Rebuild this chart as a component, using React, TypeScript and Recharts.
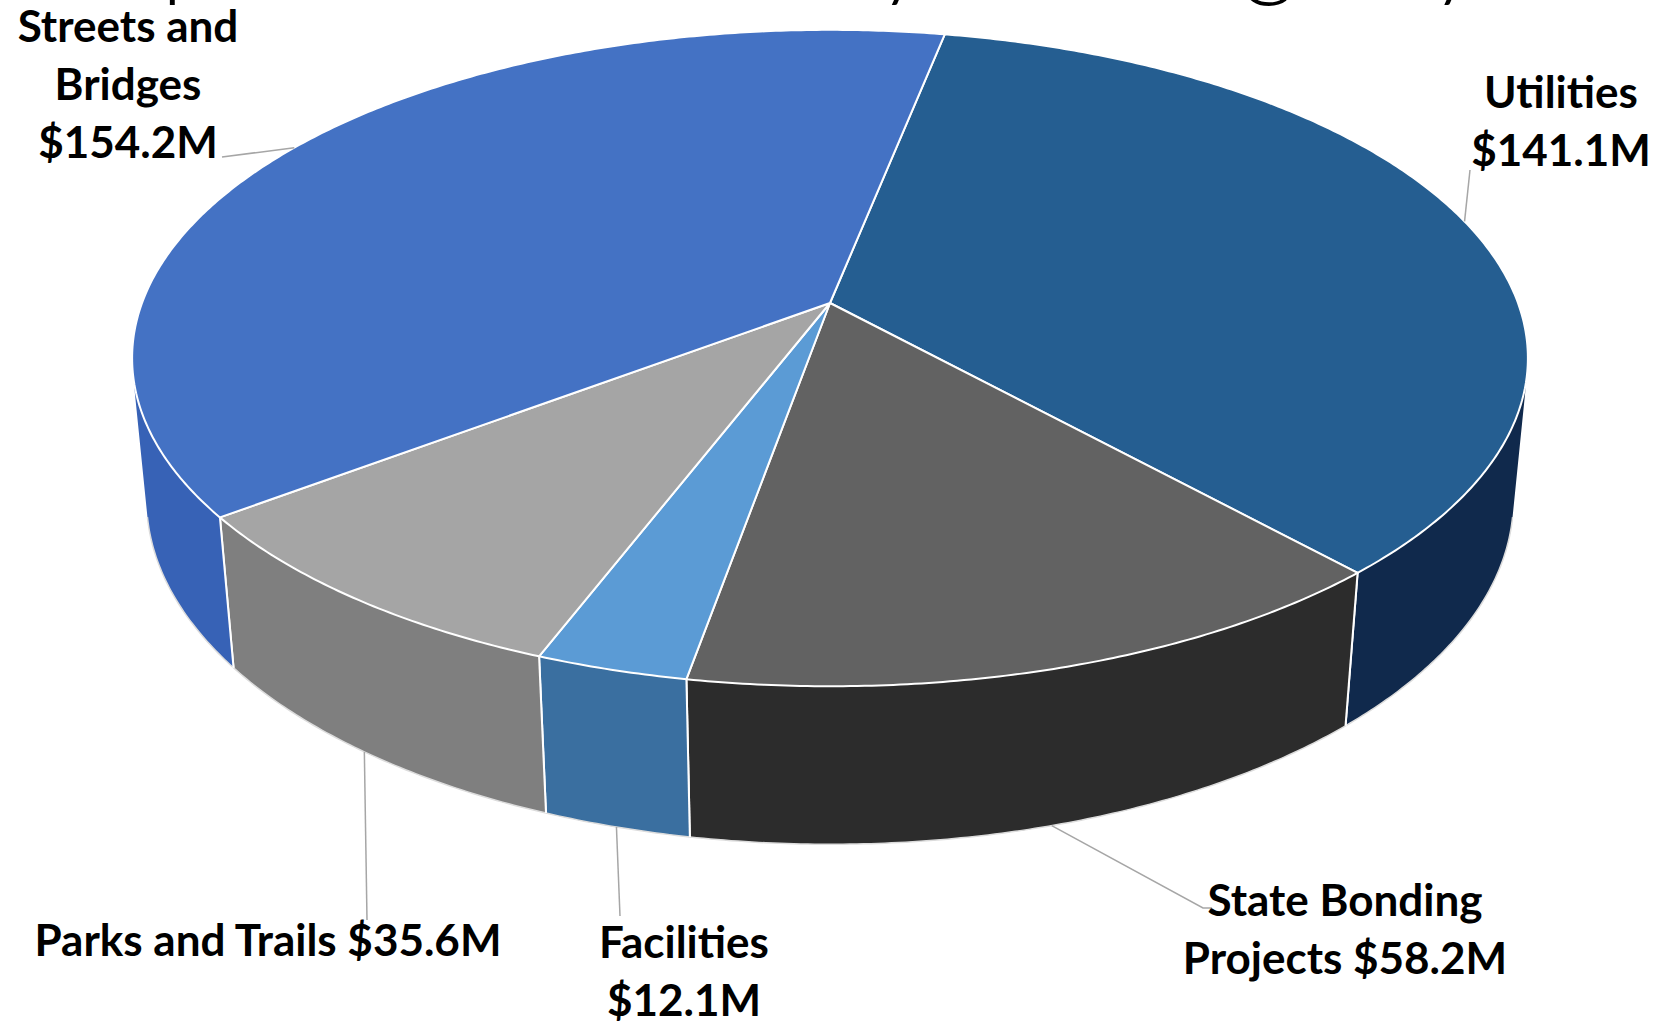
import React from 'react';
import { PieChart, Pie, Cell } from 'recharts';

// values ($ millions), clockwise from 12 o'clock
const categories = ['Utilities', 'State Bonding Projects', 'Facilities', 'Parks and Trails', 'Streets and Bridges'];
const amounts = [141.1, 58.2, 12.1, 35.6, 154.2];
const topColors = ['#255E91', '#626262', '#5B9BD5', '#A5A5A5', '#4472C4'];
const sideColors = ['#10294C', '#2C2C2C', '#3A6FA0', '#7F7F7F', '#3762B6'];
const titleText = 'Capital Expenditures by Category';

const data = categories.map((name, i) => ({ name, value: amounts[i] }));

const WIDTH = 1655;
const HEIGHT = 1024;
const CX = 830;
const CY = 303;
const RADIUS = 688;
const START = 78.8;

// fake 3D camera
const SIN_T = 0.4636;
const COS_T = 0.886;
const DIST = 5.283;
const DEPTH = 0.234;
const RADIAN = Math.PI / 180;
const VIS = Math.asin(1 / (DIST * COS_T)) / RADIAN; // wall visible where sin < -1/(D cos)

const project = (cx: number, cy: number, r: number, deg: number, z: number) => {
  const a = deg * RADIAN;
  const u = Math.cos(a);
  const w = Math.sin(a);
  const den = 1 + (COS_T / DIST) * w + (z * SIN_T) / DIST;
  return { x: cx + (r * u) / den, y: cy - (r * (w * SIN_T - z * COS_T)) / den };
};

const arc = (cx: number, cy: number, r: number, from: number, to: number, z: number) => {
  const n = Math.max(2, Math.ceil(Math.abs(to - from) / 0.5));
  const pts = [];
  for (let i = 0; i <= n; i++) pts.push(project(cx, cy, r, from + ((to - from) * i) / n, z));
  return pts;
};

const visibleSpan = (a: number, b: number) => {
  const lo = Math.min(a, b);
  const hi = Math.max(a, b);
  for (let k = -2; k <= 2; k++) {
    const vlo = 180 + VIS + 360 * k;
    const vhi = 360 - VIS + 360 * k;
    const s = Math.max(lo, vlo);
    const e = Math.min(hi, vhi);
    if (e > s) return [s, e];
  }
  return null;
};

const toPath = (pts: { x: number; y: number }[]) =>
  pts.map((p, i) => `${i ? 'L' : 'M'}${p.x.toFixed(2)},${p.y.toFixed(2)}`).join('');

const renderTop = (props: any) => {
  const { cx, cy, outerRadius, startAngle, endAngle, fill } = props;
  const pts = arc(cx, cy, outerRadius, startAngle, endAngle, 0);
  const d = `M${cx},${cy}` + toPath(pts).replace(/^M/, 'L') + 'Z';
  return <path d={d} fill={fill} stroke="#ffffff" strokeWidth={2} strokeLinejoin="round" />;
};

const renderWall = (props: any) => {
  const { cx, cy, outerRadius, startAngle, endAngle, fill } = props;
  const span = visibleSpan(startAngle, endAngle);
  if (!span) return <g />;
  const top = arc(cx, cy, outerRadius, span[0], span[1], 0);
  const bottom = arc(cx, cy, outerRadius, span[1], span[0], DEPTH);
  const edges = [startAngle, endAngle].filter((a) => a > span[0] - 0.01 && a < span[1] + 0.01);
  return (
    <g>
      <path d={toPath(top) + toPath(bottom).replace(/^M/, 'L') + 'Z'} fill={fill} stroke="none" />
      <path d={toPath(bottom)} fill="none" stroke="#dcdcdc" strokeWidth={1.5} />
      {edges.map((a, i) => {
        const p = project(cx, cy, outerRadius, a, 0);
        const q = project(cx, cy, outerRadius, a, DEPTH);
        return <line key={i} x1={p.x} y1={p.y} x2={q.x} y2={q.y} stroke="#ffffff" strokeWidth={2} />;
      })}
    </g>
  );
};

// label placement (text centre x, first baseline, wrap width, leader end)
const labelLayout = [
  { x: 1561, y: 108, wrap: 9, leader: [[1470, 170]] },
  { x: 1345, y: 916, wrap: 15, leader: [[1203, 908], [1212, 908]] },
  { x: 684, y: 958, wrap: 10, leader: [[620, 916]] },
  { x: 268, y: 956, wrap: 30, leader: [[367, 920]] },
  { x: 128, y: 42, wrap: 11, leader: [[222, 157]] },
];

const wrapWords = (text: string, max: number) => {
  const lines: string[] = [];
  let cur = '';
  text.split(' ').forEach((w) => {
    const next = cur ? `${cur} ${w}` : w;
    if (next.length > max && cur) {
      lines.push(cur);
      cur = w;
    } else cur = next;
  });
  if (cur) lines.push(cur);
  return lines;
};

const renderLabel = (props: any) => {
  const { cx, cy, outerRadius, midAngle, index, name, value } = props;
  const lay = labelLayout[index];
  const hidden = Math.sin(midAngle * RADIAN) > -1 / (DIST * COS_T);
  const anchor = project(cx, cy, outerRadius, midAngle, hidden ? 0 : DEPTH);
  const pts = [anchor, ...lay.leader.map(([x, y]) => ({ x, y }))];
  const lines = wrapWords(`${name} $${value.toFixed(1)}M`, lay.wrap);
  return (
    <g>
      <path d={toPath(pts)} fill="none" stroke="#A6A6A6" strokeWidth={1.5} />
      <text x={lay.x} y={lay.y} textAnchor="middle" fontFamily="Lato, 'Noto Sans', sans-serif" fontWeight="bold" fontSize={44} fill="#000">
        {lines.map((l, i) => (
          <tspan key={i} x={lay.x} dy={i ? 58 : 0}>
            {l}
          </tspan>
        ))}
      </text>
    </g>
  );
};

const App = () => {
  return (
    <div style={{ position: 'absolute', left: 0, top: 0, width: WIDTH, height: HEIGHT, background: '#fff', overflow: 'hidden' }}>
      <PieChart width={WIDTH} height={HEIGHT} margin={{ top: 0, right: 0, bottom: 0, left: 0 }}>
        <Pie
          data={data}
          dataKey="value"
          nameKey="name"
          cx={CX}
          cy={CY}
          outerRadius={RADIUS}
          startAngle={START}
          endAngle={START - 360}
          stroke="none"
          shape={renderWall}
          activeShape={renderWall}
          inactiveShape={renderWall}
          isAnimationActive={false}
        >
          {data.map((entry, index) => (
            <Cell key={`wall-${index}`} fill={sideColors[index]} />
          ))}
        </Pie>
        <Pie
          data={data}
          dataKey="value"
          nameKey="name"
          cx={CX}
          cy={CY}
          outerRadius={RADIUS}
          startAngle={START}
          endAngle={START - 360}
          shape={renderTop}
          activeShape={renderTop}
          inactiveShape={renderTop}
          label={renderLabel}
          labelLine={false}
          isAnimationActive={false}
        >
          {data.map((entry, index) => (
            <Cell key={`top-${index}`} fill={topColors[index]} />
          ))}
        </Pie>
      </PieChart>
      {/* title sits mostly above the visible area, only its descenders show */}
      <svg width={WIDTH} height={40} style={{ position: 'absolute', left: 0, top: 0, pointerEvents: 'none' }}>
        <text
          x={1495}
          y={-13}
          textAnchor="end"
          fontFamily="Lato, 'Noto Sans', sans-serif"
          fontWeight={300}
          fontSize={102}
          letterSpacing={14}
          fill="#000"
        >
          {titleText}
        </text>
      </svg>
    </div>
  );
};

export default App;
